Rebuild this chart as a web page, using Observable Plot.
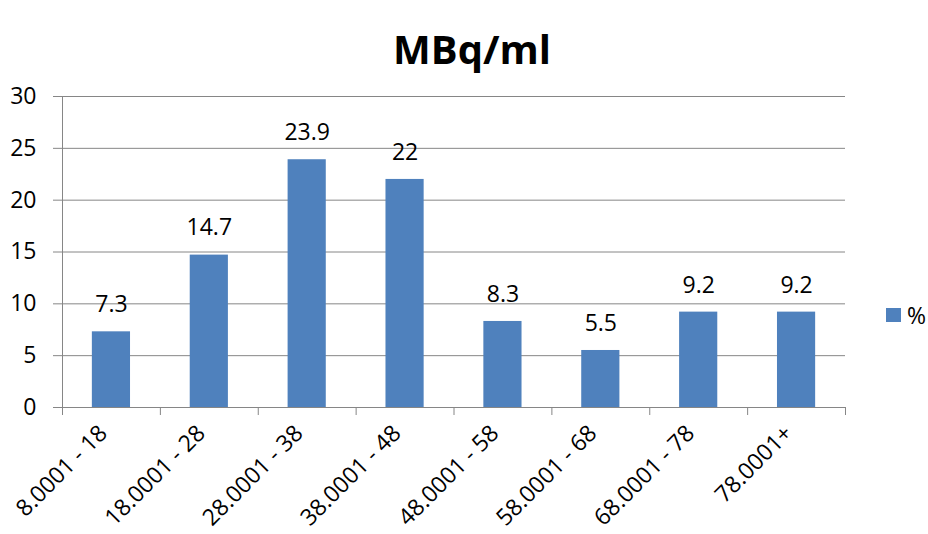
<!DOCTYPE html>
<html>
<head>
<meta charset="utf-8">
<script src="https://cdn.jsdelivr.net/npm/d3@7"></script>
<script src="https://cdn.jsdelivr.net/npm/@observablehq/plot@0.6"></script>
<style>
  html, body { margin: 0; padding: 0; background: #fff; }
  #wrap { position: relative; width: 928px; height: 534px; font-family: "Open Sans", sans-serif; }
  #legend { position: absolute; left: 886px; top: 299px; display: flex; align-items: center; font-size: 23px; color: #000; }
  #legend .sw { width: 15px; height: 14px; background: #4F81BD; margin-right: 6px; }
</style>
</head>
<body>
<div id="wrap"><div id="legend"><span class="sw"></span><span>%</span></div></div>
<script>
const categories = ["8.0001 - 18", "18.0001 - 28", "28.0001 - 38", "38.0001 - 48", "48.0001 - 58", "58.0001 - 68", "68.0001 - 78", "78.0001+"];
const values = [7.3, 14.7, 23.9, 22, 8.3, 5.5, 9.2, 9.2];
const yTicks = [0, 5, 10, 15, 20, 25, 30];
const title = "MBq/ml";
const seriesName = "%";

const data = categories.map((c, i) => ({category: c, index: i, value: values[i]}));
const grey = "#868686";

const chart = Plot.plot({
  width: 928,
  height: 534,
  marginLeft: 62,
  marginRight: 83,
  marginTop: 96,
  marginBottom: 127,
  style: {fontFamily: "'Open Sans', sans-serif", fontSize: "23px", color: "#000", background: "#fff"},
  x: {domain: [0, categories.length], axis: null},
  y: {domain: [0, 30], axis: null},
  marks: [
    Plot.ruleY(yTicks, {stroke: grey, strokeWidth: 1}),
    Plot.axisY({ticks: yTicks, tickSize: 9, tickPadding: 17, stroke: grey, strokeOpacity: 1, fill: "#000", fontSize: 23, label: null}),
    Plot.rectY(data, {x1: d => d.index + 0.305, x2: d => d.index + 0.695, y: "value", fill: "#4F81BD"}),
    Plot.ruleX([0], {stroke: grey, strokeWidth: 1}),
    Plot.ruleY([0], {stroke: grey, strokeWidth: 1}),
    Plot.axisX({ticks: d3.range(0, categories.length + 1), tickSize: 8, tickFormat: () => "", stroke: grey, strokeOpacity: 1, label: null}),
    Plot.text(data, {x: d => d.index + 0.5, y: "value", text: d => String(d.value), dy: -27, fontSize: 23, fill: "#000"}),
    Plot.text(data, {x: d => d.index + 0.5, y: 0, text: "category", rotate: -45, textAnchor: "end", dx: -8, dy: 22, fontSize: 23, fill: "#000"}),
    Plot.text([title], {frameAnchor: "top", dy: -61, dx: 18, fontWeight: "bold", fontSize: 40, fill: "#000"})
  ]
});
document.getElementById("wrap").prepend(chart);
chart.style.position = "absolute";
chart.style.left = "0";
chart.style.top = "0";
</script>
</body>
</html>
